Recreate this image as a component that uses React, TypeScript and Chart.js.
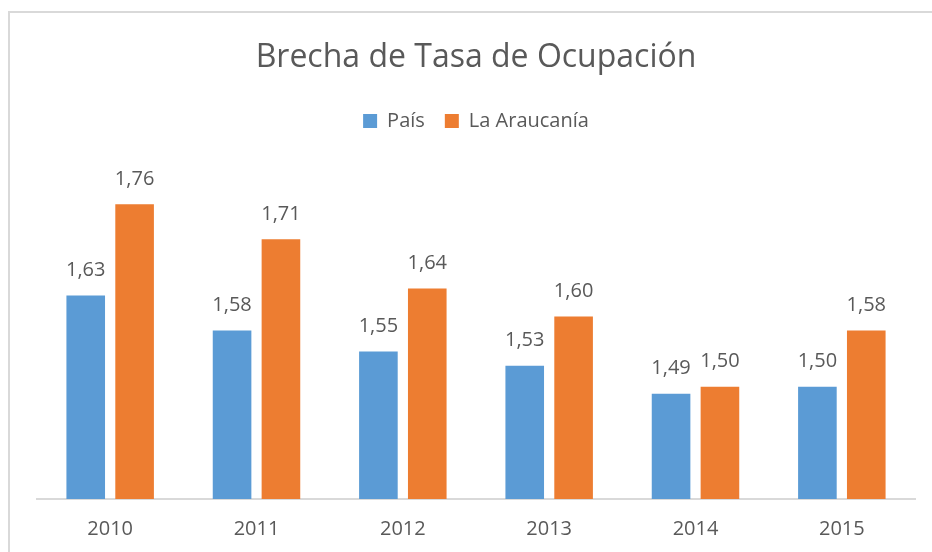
import React, { useEffect, useRef } from "react";
import { Chart, registerables } from "chart.js";

Chart.register(...registerables);

const categories = ["2010", "2011", "2012", "2013", "2014", "2015"];
const seriesNames = ["País", "La Araucanía"];
const paisValues = [1.63, 1.58, 1.55, 1.53, 1.49, 1.5];
const araucaniaValues = [1.76, 1.71, 1.64, 1.6, 1.5, 1.58];
const titleText = "Brecha de Tasa de Ocupación";

const FONT = "'Open Sans', sans-serif";
const TEXT_COLOR = "#595959";

const dataLabelPlugin = {
  id: "dataLabels",
  afterDatasetsDraw(chart: any) {
    const ctx = chart.ctx;
    ctx.save();
    ctx.font = `20px ${FONT}`;
    ctx.fillStyle = TEXT_COLOR;
    ctx.textAlign = "center";
    ctx.textBaseline = "middle";
    chart.data.datasets.forEach((ds: any, di: number) => {
      const meta = chart.getDatasetMeta(di);
      meta.data.forEach((bar: any, i: number) => {
        const v = ds.data[i] as number;
        ctx.fillText(v.toFixed(2).replace(".", ","), bar.x, bar.y - 25);
      });
    });
    ctx.restore();
  },
};

export default function App() {
  const ref = useRef<HTMLCanvasElement | null>(null);
  useEffect(() => {
    document.documentElement.style.overflow = "hidden";
    document.body.style.overflow = "hidden";
    const chart = new Chart(ref.current as HTMLCanvasElement, {
      type: "bar",
      data: {
        labels: categories,
        datasets: [
          {
            label: seriesNames[0],
            data: paisValues,
            backgroundColor: "#5B9BD5",
            categoryPercentage: 0.668,
            barPercentage: 0.79,
          },
          {
            label: seriesNames[1],
            data: araucaniaValues,
            backgroundColor: "#ED7D31",
            categoryPercentage: 0.668,
            barPercentage: 0.79,
          },
        ],
      },
      options: {
        animation: false,
        responsive: true,
        maintainAspectRatio: false,
        layout: { padding: { left: 27, right: 17, top: 0, bottom: 0 } },
        plugins: {
          title: {
            display: true,
            text: titleText,
            color: TEXT_COLOR,
            font: { family: FONT, size: 32, weight: "normal" },
            padding: { top: 26, bottom: 13.6 },
          },
          legend: {
            display: true,
            position: "top",
            labels: {
              color: TEXT_COLOR,
              font: { family: FONT, size: 20 },
              boxWidth: 14,
              boxHeight: 14,
              padding: 20,
            },
          },
          tooltip: { enabled: false },
        },
        scales: {
          x: {
            grid: { display: false, drawTicks: false },
            border: { display: true, color: "#d9d9d9", width: 2 },
            ticks: {
              color: TEXT_COLOR,
              font: { family: FONT, size: 20 },
              padding: 18,
            },
          },
          y: {
            display: false,
            min: 1.34,
            max: 1.85,
          },
        },
      },
      plugins: [dataLabelPlugin],
    });
    return () => chart.destroy();
  }, []);

  return (
    <div
      style={{
        position: "absolute",
        left: 8,
        top: 11,
        width: 922,
        height: 546,
        borderLeft: "2px solid #d9d9d9",
        borderTop: "2px solid #d9d9d9",
        background: "#fff",
      }}
    >
      <canvas ref={ref} />
    </div>
  );
}
